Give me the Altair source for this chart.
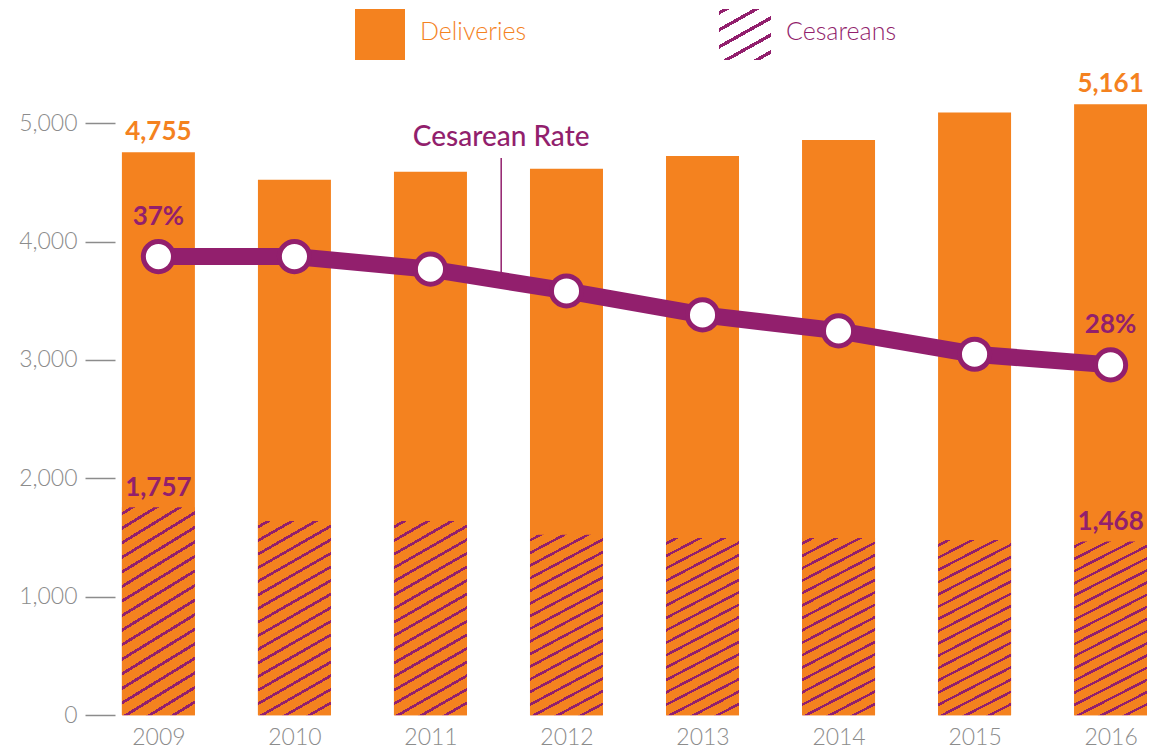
import altair as alt
import pandas as pd

# ---------------- data ----------------
years = [2009, 2010, 2011, 2012, 2013, 2014, 2015, 2016]
deliveries = [4755, 4522, 4590, 4615, 4724, 4859, 5090, 5161]
cesareans = [1757, 1641, 1641, 1525, 1497, 1497, 1480, 1468]
rate_pct = [36.95, 36.95, 35.96, 34.25, 32.37, 31.11, 29.28, 28.44]
labelled_years = [2009, 2016]
y_ticks = [0, 1000, 2000, 3000, 4000, 5000]
legend_labels = ["Deliveries", "Cesareans"]
annotation_text = ["Cesarean Rate"]
annotation_year = [2011.52]
annotation_label_rate = [46.3]
annotation_rule_top = [44.7]
annotation_rule_bottom = [35.0]

ORANGE = "#F4821F"
PURPLE = "#921F6D"
GRAY = "#8C8C8C"
FONT = "Lato"

df = pd.DataFrame({"year": years, "deliveries": deliveries,
                   "cesareans": cesareans, "rate": rate_pct})
ann = pd.DataFrame({"year": annotation_year, "label": annotation_text,
                    "ly": annotation_label_rate, "top": annotation_rule_top,
                    "bottom": annotation_rule_bottom})

W, H = 1025, 651.2
x_scale = alt.Scale(domain=[2008.7324, 2016.2676], nice=False, zero=False, padding=0)
count_scale = alt.Scale(domain=[0, 5500], nice=False, padding=0)
rate_scale = alt.Scale(domain=[0.92, 52.08], nice=False, zero=False, padding=0)


def hatch(bg, fg, slope, w_px, h_px, spacing, thick, phase=0.0):
    a = slope * w_px / h_px
    denom = h_px * (a + 1)
    step = spacing / denom
    half = thick / denom / 2
    stops = [alt.GradientStop(offset=0, color=bg)]
    c = phase / denom
    while c - half < 1:
        lo = round(max(c - half, 0), 5)
        hi = round(min(c + half, 1), 5)
        if hi > 0:
            stops += [alt.GradientStop(offset=lo, color=bg),
                      alt.GradientStop(offset=lo, color=fg),
                      alt.GradientStop(offset=hi, color=fg),
                      alt.GradientStop(offset=hi, color=bg)]
        c += step
    stops.append(alt.GradientStop(offset=1, color=bg))
    k = (a + 1) / (a * a + 1)
    return alt.LinearGradient(gradient="linear", stops=stops,
                              x1=0, y1=0, x2=round(a * k, 5), y2=round(k, 5))


bar_hatch = hatch(ORANGE, PURPLE, 0.56, 73, 190, 13.3, 3.0, phase=6)
legend_hatch = hatch("#ffffff", PURPLE, 0.56, 52, 51, 17, 3.8, phase=4)

x_axis = alt.Axis(values=years, format="d", ticks=False, domain=False,
                  grid=False, labelFont=FONT, labelFontWeight=300,
                  labelFontSize=23, labelColor=GRAY, labelPadding=29,
                  labelBaseline="alphabetic")
X = alt.X("year:Q", scale=x_scale, title=None, axis=x_axis)

base = alt.Chart(df)

deliv_bars = base.mark_bar(color=ORANGE, width=73).encode(
    x=X,
    y=alt.Y("deliveries:Q", scale=count_scale, title=None,
            axis=alt.Axis(values=y_ticks, format=",.0f", tickSize=30, offset=7,
                          domain=False, grid=False, labelFont=FONT,
                          labelFontWeight=300, labelFontSize=23,
                          labelColor=GRAY, tickColor=GRAY, tickWidth=1.5,
                          labelPadding=8)),
)

ces_bars = base.mark_bar(fill=bar_hatch, width=73).encode(
    x=X, y=alt.Y("cesareans:Q", scale=count_scale, axis=None))

lab = base.transform_filter(alt.FieldOneOfPredicate(field="year", oneOf=labelled_years))

deliv_labels = lab.mark_text(font=FONT, fontWeight="bold", fontSize=26,
                             color=ORANGE, baseline="alphabetic", dy=-12).encode(
    x=X, y=alt.Y("deliveries:Q", scale=count_scale, axis=None),
    text=alt.Text("deliveries:Q", format=","))

ces_labels = lab.mark_text(font=FONT, fontWeight="bold", fontSize=26,
                           color=PURPLE, baseline="alphabetic", dy=-11).encode(
    x=X, y=alt.Y("cesareans:Q", scale=count_scale, axis=None),
    text=alt.Text("cesareans:Q", format=","))

ann_base = alt.Chart(ann)
leader = ann_base.mark_rule(color=PURPLE, strokeWidth=1.5).encode(
    x=X, y=alt.Y("top:Q", scale=rate_scale, axis=None), y2="bottom:Q")
ann_text = ann_base.mark_text(font=FONT, fontWeight=500, fontSize=28,
                              color=PURPLE, baseline="middle").encode(
    x=X, y=alt.Y("ly:Q", scale=rate_scale, axis=None), text="label:N")

rate_line = base.mark_line(color=PURPLE, strokeWidth=17).encode(
    x=X, y=alt.Y("rate:Q", scale=rate_scale, axis=None))
rate_pts = base.mark_point(shape="circle", filled=True, fill="white",
                           stroke=PURPLE, strokeWidth=5, size=908,
                           opacity=1).encode(
    x=X, y=alt.Y("rate:Q", scale=rate_scale, axis=None))
rate_labels = lab.transform_calculate(
    txt="format(datum.rate, '.0f') + '%'").mark_text(
    font=FONT, fontWeight="bold", fontSize=26, color=PURPLE,
    baseline="middle", dy=-40).encode(
    x=X, y=alt.Y("rate:Q", scale=rate_scale, axis=None), text="txt:N")

leg1 = alt.Chart(alt.Data(values=[{"label": legend_labels[0]}]))
leg2 = alt.Chart(alt.Data(values=[{"label": legend_labels[1]}]))
leg_rect1 = leg1.mark_rect(fill=ORANGE).encode(
    x=alt.value(233), x2=alt.value(283), y=alt.value(-55), y2=alt.value(-4))
leg_text1 = leg1.mark_text(font=FONT, fontWeight=300, fontSize=25, color=ORANGE,
                           align="left", baseline="middle").encode(
    x=alt.value(298), y=alt.value(-32), text="label:N")
leg_rect2 = leg2.mark_rect(fill=legend_hatch).encode(
    x=alt.value(597), x2=alt.value(649), y=alt.value(-55), y2=alt.value(-4))
leg_text2 = leg2.mark_text(font=FONT, fontWeight=300, fontSize=25, color=PURPLE,
                           align="left", baseline="middle").encode(
    x=alt.value(664), y=alt.value(-32), text="label:N")

chart = alt.layer(
    deliv_bars, ces_bars, deliv_labels, ces_labels, leader, rate_line,
    rate_pts, rate_labels, ann_text, leg_rect1, leg_text1, leg_rect2, leg_text2
).resolve_scale(y="independent").properties(
    width=W, height=H,
    autosize=alt.AutoSizeParams(type="none"),
    padding={"left": 114, "top": 56, "right": 0, "bottom": 40},
    background="white",
).configure_view(stroke=None)

chart.save("out.html", embed_options={"renderer": "svg", "actions": False})
